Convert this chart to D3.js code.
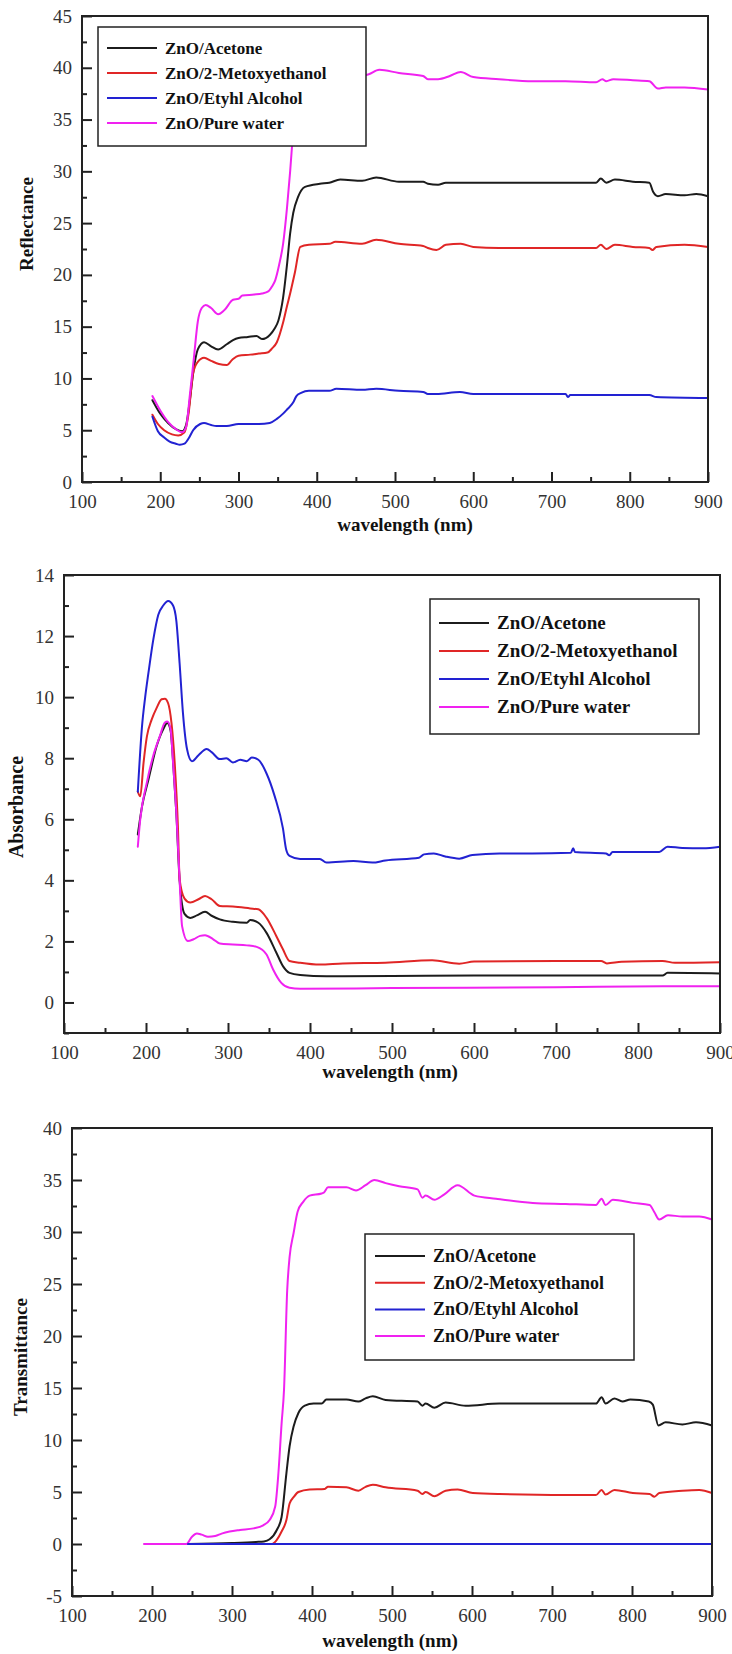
<!DOCTYPE html>
<html><head><meta charset="utf-8">
<script src="https://cdn.jsdelivr.net/npm/d3@7/dist/d3.min.js"></script>
<style>
body{margin:0;background:#fff}
svg{display:block}
svg text{font-family:"Liberation Serif","Times New Roman","DejaVu Serif",serif !important;}
</style>
</head><body>
<svg id="c" width="732" height="1654"></svg>
<script>
// ---------- DATA ----------
const seriesNames = ["ZnO/Acetone", "ZnO/2-Metoxyethanol", "ZnO/Etyhl Alcohol", "ZnO/Pure water"];
const xMajorTicks = [100, 200, 300, 400, 500, 600, 700, 800, 900];
const xMinorTicks = [150, 250, 350, 450, 550, 650, 750, 850];
const reflTicks = [0, 5, 10, 15, 20, 25, 30, 35, 40, 45];
const reflMinor = [2.5, 7.5, 12.5, 17.5, 22.5, 27.5, 32.5, 37.5, 42.5];
const absTicks = [0, 2, 4, 6, 8, 10, 12, 14];
const absMinor = [-1, 1, 3, 5, 7, 9, 11, 13];
const transTicks = [-5, 0, 5, 10, 15, 20, 25, 30, 35, 40];
const transMinor = [-2.5, 2.5, 7.5, 12.5, 17.5, 22.5, 27.5, 32.5, 37.5];

// Reflectance (wavelength nm, value)
const reflAcetone = [[190,7.9],[200,6.6],[210,5.7],[220,5.1],[228,4.9],[233,5.5],[238,8],[242,10.5],[248,12.8],[256,13.5],[265,13.1],[274,12.8],[285,13.3],[293,13.7],[300,13.9],[312,14.0],[323,14.1],[330,13.8],[340,14.2],[346,14.8],[351,15.6],[357,17.8],[362,21],[366,24],[370,26],[376,27.5],[385,28.5],[404,28.8],[416,28.9],[430,29.2],[458,29.1],[476,29.4],[505,29.0],[536,29.0],[542,28.8],[555,28.7],[565,28.9],[590,28.9],[633,28.9],[676,28.9],[757,28.9],[763,29.3],[770,28.9],[781,29.2],[804,29.0],[825,28.9],[830,28.0],[836,27.6],[846,27.8],[870,27.7],[885,27.8],[900,27.6]];
const reflMetox = [[190,6.5],[197,5.6],[205,5.0],[215,4.6],[223,4.5],[231,4.8],[236,6.5],[242,10.5],[248,11.6],[256,12.0],[265,11.7],[275,11.4],[285,11.3],[292,11.8],[300,12.2],[315,12.3],[326,12.4],[337,12.5],[343,12.9],[349,13.5],[357,15.4],[362,17],[366,18.2],[372,20.2],[379,22.7],[390,22.9],[416,23.0],[424,23.2],[458,23.0],[476,23.4],[505,23.0],[536,22.8],[542,22.6],[553,22.4],[565,22.9],[584,23.0],[600,22.7],[633,22.6],[718,22.6],[757,22.6],[763,22.9],[770,22.5],[781,22.9],[804,22.7],[825,22.6],[829,22.4],[834,22.7],[870,22.9],[900,22.7]];
const reflEthyl = [[190,6.3],[197,4.9],[205,4.3],[212,3.9],[220,3.7],[225,3.6],[231,3.7],[237,4.3],[242,5.0],[251,5.6],[256,5.7],[265,5.5],[272,5.4],[285,5.4],[300,5.6],[326,5.6],[340,5.7],[349,6.1],[357,6.6],[362,7.0],[370,7.7],[374,8.3],[380,8.6],[390,8.8],[416,8.8],[425,9.0],[458,8.9],[476,9.0],[505,8.8],[536,8.7],[542,8.5],[553,8.5],[583,8.7],[600,8.5],[718,8.5],[721,8.2],[724,8.4],[757,8.4],[825,8.4],[834,8.2],[900,8.1]];
const reflWater = [[190,8.3],[200,6.9],[210,5.8],[220,5.1],[228,4.8],[233,5.3],[238,8.5],[243,12],[248,15.5],[253,16.8],[258,17.1],[265,16.8],[274,16.2],[282,16.6],[293,17.6],[300,17.7],[305,18.0],[320,18.1],[330,18.2],[338,18.4],[343,18.9],[347,19.5],[352,21],[357,23],[362,26.5],[366,30],[370,34],[374,37],[380,38.6],[390,39.0],[404,39.2],[420,39.3],[446,39.4],[463,39.3],[480,39.8],[505,39.5],[536,39.2],[542,38.9],[555,38.9],[570,39.2],[584,39.6],[600,39.1],[633,38.9],[676,38.7],[718,38.7],[757,38.6],[765,38.9],[770,38.7],[779,38.9],[804,38.8],[825,38.7],[836,38.0],[846,38.1],[870,38.1],[900,37.9]];

// Absorbance
const absAcetone = [[190,5.5],[195,6.4],[203,7.3],[213,8.4],[221,8.95],[226,9.15],[230,8.9],[233,7.9],[237,6.2],[241,4.0],[247,2.9],[254,2.77],[262,2.85],[272,2.97],[280,2.84],[290,2.72],[306,2.64],[323,2.61],[327,2.7],[337,2.61],[347,2.28],[359,1.63],[367,1.19],[375,0.97],[388,0.9],[420,0.86],[500,0.87],[600,0.88],[760,0.88],[830,0.88],[836,0.97],[900,0.95]];
const absMetox = [[190,6.9],[193,6.75],[197,7.85],[201,8.7],[207,9.27],[213,9.65],[219,9.93],[223,9.95],[227,9.8],[231,9.17],[235,7.85],[239,5.7],[241,4.03],[247,3.4],[254,3.27],[264,3.38],[272,3.49],[280,3.38],[290,3.16],[306,3.14],[327,3.08],[337,3.05],[347,2.77],[359,2.17],[367,1.74],[375,1.36],[388,1.3],[412,1.24],[440,1.28],[492,1.3],[549,1.38],[582,1.27],[600,1.34],[700,1.36],[755,1.36],[762,1.28],[780,1.33],[830,1.36],[845,1.3],[900,1.32]];
const absEthyl = [[190,6.9],[195,9.0],[199,10.0],[203,10.8],[209,11.9],[215,12.7],[221,13.0],[227,13.15],[233,13.0],[237,12.5],[241,11.1],[245,9.5],[250,8.3],[256,7.9],[264,8.1],[274,8.3],[280,8.2],[290,7.97],[298,8.0],[306,7.86],[315,7.95],[323,7.9],[329,8.02],[337,7.95],[347,7.5],[357,6.75],[367,5.7],[371,5.0],[375,4.8],[388,4.7],[412,4.7],[420,4.58],[453,4.63],[476,4.58],[492,4.65],[533,4.74],[539,4.85],[551,4.88],[565,4.78],[582,4.71],[598,4.83],[631,4.88],[671,4.88],[718,4.9],[721,5.05],[723,4.93],[761,4.88],[765,4.82],[769,4.93],[826,4.93],[836,5.1],[854,5.06],[879,5.05],[900,5.1]];
const absWater = [[190,5.1],[193,6.0],[201,7.2],[209,8.1],[217,8.73],[223,9.17],[226,9.2],[230,8.95],[233,7.85],[237,6.2],[241,4.0],[244,2.5],[251,2.01],[258,2.07],[266,2.18],[272,2.2],[282,2.07],[290,1.93],[306,1.9],[323,1.87],[335,1.82],[347,1.57],[355,1.08],[365,0.64],[375,0.48],[388,0.45],[500,0.47],[700,0.5],[830,0.53],[900,0.53]];

// Transmittance
const transAcetone = [[245,0],[300,0.1],[330,0.2],[340,0.25],[347,0.45],[356,1.35],[362,2.6],[368,6.8],[372,9.4],[377,11.3],[383,12.6],[391,13.3],[402,13.5],[412,13.5],[418,13.9],[443,13.9],[458,13.7],[467,14.0],[476,14.2],[492,13.85],[532,13.7],[538,13.3],[542,13.5],[553,13.1],[567,13.6],[592,13.3],[634,13.5],[755,13.5],[762,14.1],[767,13.5],[778,14.0],[788,13.7],[798,13.9],[821,13.7],[826,13.4],[833,11.4],[842,11.7],[863,11.5],[880,11.7],[900,11.4]];
const transMetox = [[245,0],[350,0],[356,0.4],[362,1.2],[368,2.3],[372,3.9],[377,4.5],[383,5.0],[397,5.25],[416,5.3],[420,5.5],[443,5.45],[458,5.13],[467,5.5],[476,5.7],[492,5.45],[532,5.13],[538,4.8],[542,5.0],[553,4.6],[567,5.13],[582,5.25],[601,4.9],[634,4.8],[755,4.7],[762,5.2],[767,4.75],[778,5.2],[801,4.9],[822,4.8],[828,4.55],[834,4.9],[863,5.13],[884,5.2],[900,4.9]];
const transEthyl = [[245,0],[900,0]];
const transWater = [[190,0],[243,0],[250,0.7],[256,1.0],[262,0.9],[270,0.7],[279,0.77],[287,1.0],[297,1.2],[310,1.35],[327,1.5],[339,1.8],[347,2.3],[354,3.6],[358,6.8],[362,11.6],[365,14.8],[369,24.4],[372,27.6],[377,29.9],[382,31.95],[389,32.9],[397,33.5],[412,33.7],[415,33.8],[420,34.3],[443,34.3],[455,34.0],[467,34.5],[478,35.0],[492,34.7],[509,34.4],[532,34.1],[538,33.3],[542,33.5],[553,33.1],[565,33.6],[582,34.5],[603,33.5],[630,33.2],[676,32.8],[717,32.7],[755,32.6],[762,33.2],[767,32.6],[776,33.1],[801,32.8],[822,32.6],[828,31.9],[834,31.2],[845,31.6],[863,31.5],[884,31.5],[900,31.2]];

// ---------- STYLE ----------
const colors = ["#1c1c1c", "#e02626", "#2222d2", "#f022f0"];
const FONT = '"Liberation Serif","Times New Roman","DejaVu Serif",serif';
const fmt = d => String(d).replace("\u2212", "-");
const svg = d3.select("#c");

function panel(o) {
  const g = svg.append("g");
  const x = d3.scaleLinear().domain([100, 900]).range([o.left, o.right]);
  const y = d3.scaleLinear().domain(o.yDomain).range([o.bottom, o.top]);
  const line = d3.line().x(d => x(d[0])).y(d => y(d[1])).curve(d3.curveMonotoneX);

  [0, 1, 3, 2].forEach(i => {
    g.append("path").datum(o.data[i]).attr("d", line)
      .attr("fill", "none").attr("stroke", colors[i]).attr("stroke-width", 2)
      .attr("stroke-linejoin", "round").attr("stroke-linecap", "round");
  });

  g.append("g").attr("transform", `translate(0,${o.bottom})`)
    .call(d3.axisBottom(x).tickValues(xMinorTicks).tickSize(-5).tickFormat(""))
    .call(a => a.select(".domain").remove());
  g.append("g").attr("transform", `translate(0,${o.bottom})`)
    .call(d3.axisBottom(x).tickValues(xMajorTicks).tickSize(-10).tickPadding(12.5).tickFormat(fmt))
    .call(a => a.select(".domain").remove());
  g.append("g").attr("transform", `translate(${o.left},0)`)
    .call(d3.axisLeft(y).tickValues(o.yMinor).tickSize(-5).tickFormat(""))
    .call(a => a.select(".domain").remove());
  g.append("g").attr("transform", `translate(${o.left},0)`)
    .call(d3.axisLeft(y).tickValues(o.yTicks).tickSize(-10).tickPadding(10).tickFormat(fmt))
    .call(a => a.select(".domain").remove());

  g.selectAll("g").attr("font-family", null);
  g.selectAll(".tick line").attr("stroke", "#222").attr("stroke-width", 2);
  g.selectAll(".tick text").style("font-family", FONT).attr("font-size", 19).attr("fill", "#333");

  g.append("rect").attr("x", o.left).attr("y", o.top)
    .attr("width", o.right - o.left).attr("height", o.bottom - o.top)
    .attr("fill", "none").attr("stroke", "#222").attr("stroke-width", 2);

  g.append("text").attr("x", o.xTitleX).attr("y", o.xTitleY)
    .attr("text-anchor", "middle").style("font-family", FONT).attr("font-weight", "bold")
    .attr("font-size", 19).attr("fill", "#111").text("wavelength (nm)");
  g.append("text").attr("transform", `translate(${o.yTitleX},${o.yTitleY}) rotate(-90)`)
    .attr("text-anchor", "middle").style("font-family", FONT).attr("font-weight", "bold")
    .attr("font-size", o.yTitleSize).attr("fill", "#111").text(o.yTitle);

  const L = o.legend;
  const lg = g.append("g");
  lg.append("rect").attr("x", L.x).attr("y", L.y).attr("width", L.w).attr("height", L.h)
    .attr("fill", "#fff").attr("stroke", "#222").attr("stroke-width", 1.5);
  seriesNames.forEach((name, i) => {
    const yy = L.row0 + i * L.dy;
    lg.append("line").attr("x1", L.lx0).attr("x2", L.lx1).attr("y1", yy).attr("y2", yy)
      .attr("stroke", colors[i]).attr("stroke-width", 2);
    lg.append("text").attr("x", L.tx).attr("y", yy).attr("dy", "0.33em")
      .style("font-family", FONT).attr("font-weight", "bold").attr("font-size", L.fs)
      .attr("fill", "#111").text(name);
  });
}

panel({
  left: 82, right: 708, top: 16, bottom: 482,
  yDomain: [0, 45], yTicks: reflTicks, yMinor: reflMinor,
  data: [reflAcetone, reflMetox, reflEthyl, reflWater],
  xTitleX: 405, xTitleY: 531, yTitle: "Reflectance", yTitleX: 33, yTitleY: 224, yTitleSize: 19,
  legend: {x: 98, y: 27, w: 268, h: 119, row0: 48, dy: 25, lx0: 107, lx1: 157, tx: 165, fs: 17}
});
panel({
  left: 64, right: 720, top: 575, bottom: 1033,
  yDomain: [-1, 14], yTicks: absTicks, yMinor: absMinor,
  data: [absAcetone, absMetox, absEthyl, absWater],
  xTitleX: 390, xTitleY: 1078, yTitle: "Absorbance", yTitleX: 23, yTitleY: 807, yTitleSize: 20,
  legend: {x: 430, y: 599, w: 269, h: 135, row0: 623, dy: 28, lx0: 439, lx1: 489, tx: 497, fs: 19}
});
panel({
  left: 72, right: 712, top: 1128, bottom: 1596,
  yDomain: [-5, 40], yTicks: transTicks, yMinor: transMinor,
  data: [transAcetone, transMetox, transEthyl, transWater],
  xTitleX: 390, xTitleY: 1647, yTitle: "Transmittance", yTitleX: 27, yTitleY: 1357, yTitleSize: 19,
  legend: {x: 365, y: 1234, w: 269, h: 126, row0: 1256, dy: 26.7, lx0: 375, lx1: 425, tx: 433, fs: 18}
});
</script>
</body></html>
